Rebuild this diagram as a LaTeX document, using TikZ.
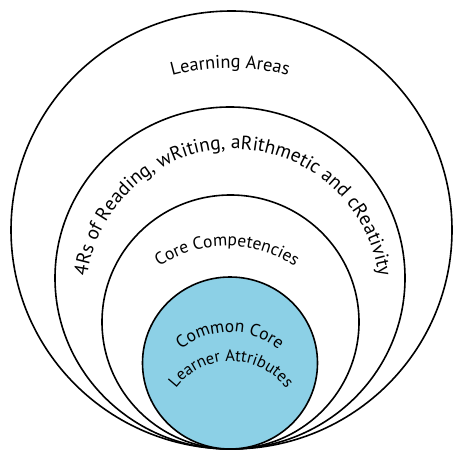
\documentclass[tikz,border=0pt]{standalone}
\usepackage{fontspec}
\setmainfont{PT Sans}
\usetikzlibrary{decorations.text}

\definecolor{attrblue}{RGB}{140,208,230}
\newcommand{\lblfont}[1]{\fontsize{#1}{#1}\selectfont}

\begin{document}
\begin{tikzpicture}[x=1pt, y=1pt,
  ring/.style={draw=black, line width=1.6pt},
  arclabel/.style={decorate, decoration={text along path, text align=center, text={#1}}}]
\useasboundingbox (0,0) rectangle (454,450);

% nested circles, all touching at the bottom
\draw[ring] (231.5,220) ellipse [x radius=220.5, y radius=219];
\draw[ring] (230,172) ellipse [x radius=175, y radius=171];
\draw[ring] (230.5,128) ellipse [x radius=128.5, y radius=127];
\draw[ring, fill=attrblue] (230,87) ellipse [x radius=87.5, y radius=86];

% labels along the arcs
\path[arclabel={|\lblfont{18.4}|Learning Areas}] (230,164) ++(150:218) arc[start angle=150, end angle=30, radius=218];
\path[arclabel={|\lblfont{19.5}|4Rs of Reading{,} wRiting{,} aRithmetic and cReativity}] (233,154) ++(179:147) arc[start angle=179, end angle=1, radius=147];
\path[arclabel={|\lblfont{17.5}|Core Competencies}] (227,82) ++(165:122) arc[start angle=165, end angle=15, radius=122];
\path[arclabel={|\lblfont{17.5}|Common Core}] (230,42) ++(170:76) arc[start angle=170, end angle=10, radius=76];
\path[arclabel={|\lblfont{16.5}|Learner Attributes}] (231,20) ++(178:69) arc[start angle=178, end angle=2, radius=69];

\end{tikzpicture}
\end{document}
